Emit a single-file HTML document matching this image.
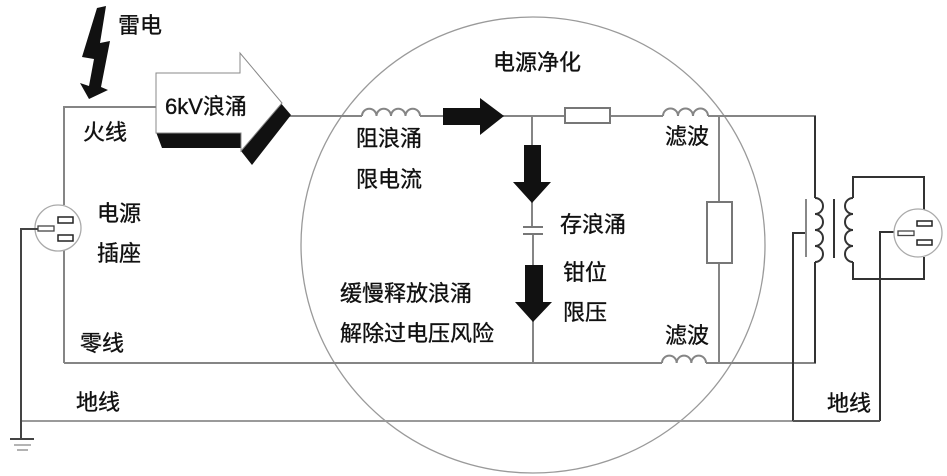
<!DOCTYPE html>
<html><head><meta charset="utf-8"><style>
html,body{margin:0;padding:0;background:#fff;}
svg{display:block;}
text{font-family:"Liberation Sans","Noto Sans CJK SC",sans-serif;font-size:22px;fill:#111;stroke:#111;stroke-width:0.35px;}
</style></head><body>
<svg width="947" height="476" viewBox="0 0 947 476" xmlns="http://www.w3.org/2000/svg">
<rect width="947" height="476" fill="#fff"/>
<!-- big circle -->
<ellipse cx="533" cy="245" rx="232" ry="228" fill="none" stroke="#9a9a9a" stroke-width="1.3"/>

<g fill="none" stroke="#858585" stroke-width="2">
  <!-- fire line left -->
  <polyline points="64,205 64,107 156,107"/>
  <line x1="64" y1="250" x2="64" y2="363"/>
  <!-- fire line right -->
  <line x1="288" y1="116" x2="362" y2="116"/>
  <path d="M362 116 a7.25 7.25 0 0 1 14.5 0 a7.25 7.25 0 0 1 14.5 0 a7.25 7.25 0 0 1 14.5 0 a7.25 7.25 0 0 1 14.5 0"/>
  <line x1="420" y1="116" x2="444" y2="116"/>
  <line x1="503" y1="116" x2="565" y2="116"/>
  <line x1="610" y1="116" x2="663" y2="116"/>
  <path d="M663 116 a7.5 7.5 0 0 1 15 0 a7.5 7.5 0 0 1 15 0 a7.5 7.5 0 0 1 15 0"/>
  <line x1="708" y1="116" x2="816" y2="116"/>
  <!-- junction vertical -->
  <line x1="532" y1="116" x2="532" y2="146"/>
  <line x1="532" y1="200" x2="532" y2="227"/>
  <line x1="533" y1="234" x2="533" y2="266"/>
  <line x1="533" y1="318" x2="533" y2="363"/>
  <!-- right vertical with resistor -->
  <line x1="719" y1="116" x2="719" y2="202"/>
  <line x1="719" y1="263" x2="719" y2="363"/>
  <!-- neutral -->
  <line x1="64" y1="363" x2="662" y2="363"/>
  <path d="M662 363 a7.33 7.33 0 0 1 14.67 0 a7.33 7.33 0 0 1 14.67 0 a7.33 7.33 0 0 1 14.67 0"/>
  <line x1="706" y1="363" x2="816" y2="363"/>
</g>
<!-- ground line -->
<line x1="21" y1="421" x2="880" y2="421" stroke="#9a9a9a" stroke-width="2"/>

<!-- capacitor plates -->
<line x1="523" y1="227" x2="543" y2="227" stroke="#777" stroke-width="2"/>
<line x1="523" y1="234" x2="543" y2="234" stroke="#777" stroke-width="2"/>

<!-- resistors -->
<rect x="565" y="108" width="45" height="15" fill="#fff" stroke="#777" stroke-width="2"/>
<rect x="707" y="202" width="25" height="61" fill="#fff" stroke="#777" stroke-width="2"/>

<!-- black arrows -->
<polygon points="443,108 480,108 480,98 504,116 480,135 480,125 443,125" fill="#111"/>
<polygon points="524,145 541,145 541,182 551,182 532,203 513,182 524,182" fill="#111"/>
<polygon points="525,265 543,265 543,302 552,302 533,322 515,302 525,302" fill="#111"/>

<!-- big 3D arrow -->
<polygon points="156,132 247,132 247,148 162,148" fill="#111"/>
<polygon points="279,101 291,115 252,165 241,151" fill="#111"/>
<polygon points="156,73 240,73 240,53 282,103 241,151 241,133 156,133" fill="#fff" stroke="#888" stroke-width="1"/>

<!-- lightning -->
<polygon points="97,8 106,6 100,43 110,41 101,87 108,90 89,99 80,83 89,86 94,59 82,57" fill="#111"/>

<!-- left socket -->
<circle cx="58" cy="228" r="23" fill="#fff" stroke="#aaa" stroke-width="1.3"/>
<rect x="58" y="217" width="15" height="6" fill="#fff" stroke="#222" stroke-width="1.5"/>
<rect x="58" y="235" width="15" height="6" fill="#fff" stroke="#222" stroke-width="1.5"/>
<rect x="38" y="226" width="16" height="5" fill="#fff" stroke="#444" stroke-width="1.3"/>
<g fill="none" stroke="#444" stroke-width="2">
  <polyline points="38,229 21,229 21,439"/>
  <line x1="10" y1="439" x2="34" y2="439"/>
</g>
<line x1="14" y1="445" x2="31" y2="445" stroke="#888" stroke-width="1.3"/>
<line x1="17" y1="450" x2="28" y2="450" stroke="#888" stroke-width="1.3"/>

<!-- transformer -->
<g fill="none" stroke="#333" stroke-width="2">
  <line x1="815" y1="116" x2="815" y2="198"/>
  <path d="M815 198 a8 8 0 0 1 0 16 a8 8 0 0 1 0 16 a8 8 0 0 1 0 16 a8 8 0 0 1 0 16"/>
  <line x1="815" y1="262" x2="815" y2="363"/>
  <line x1="834" y1="199" x2="834" y2="258"/>
  <polyline points="853,198 853,177 924,177 924,210"/>
  <path d="M853 198 a8 8 0 0 0 0 16 a8 8 0 0 0 0 16 a8 8 0 0 0 0 16 a8 8 0 0 0 0 16"/>
  <polyline points="853,262 853,279 924,279 924,257"/>
  <polyline points="806,233 793,233 793,421"/>
  <polyline points="898,232 880,232 880,421"/>
</g>
<line x1="806" y1="199" x2="806" y2="257" stroke="#888" stroke-width="2"/>
<line x1="793" y1="421" x2="880" y2="421" stroke="#555" stroke-width="2"/>

<!-- right socket -->
<circle cx="918" cy="233" r="24" fill="#fff" stroke="#aaa" stroke-width="1.3"/>
<rect x="917" y="221" width="15" height="5" fill="#fff" stroke="#222" stroke-width="1.5"/>
<rect x="917" y="240" width="15" height="5" fill="#fff" stroke="#222" stroke-width="1.5"/>
<rect x="898" y="231" width="16" height="4.5" fill="#fff" stroke="#444" stroke-width="1.3"/>

<!-- labels -->
<text x="118" y="33">雷电</text>
<text x="165" y="114">6kV浪涌</text>
<text x="83" y="140">火线</text>
<text x="97" y="221">电源</text>
<text x="97" y="261">插座</text>
<text x="80" y="351">零线</text>
<text x="76" y="410">地线</text>
<text x="493" y="70">电源净化</text>
<text x="356" y="146">阻浪涌</text>
<text x="356" y="187">限电流</text>
<text x="560" y="232">存浪涌</text>
<text x="563" y="280">钳位</text>
<text x="563" y="320">限压</text>
<text x="340" y="301">缓慢释放浪涌</text>
<text x="340" y="341">解除过电压风险</text>
<text x="665" y="144">滤波</text>
<text x="665" y="343">滤波</text>
<text x="827" y="411">地线</text>
</svg>
</body></html>
